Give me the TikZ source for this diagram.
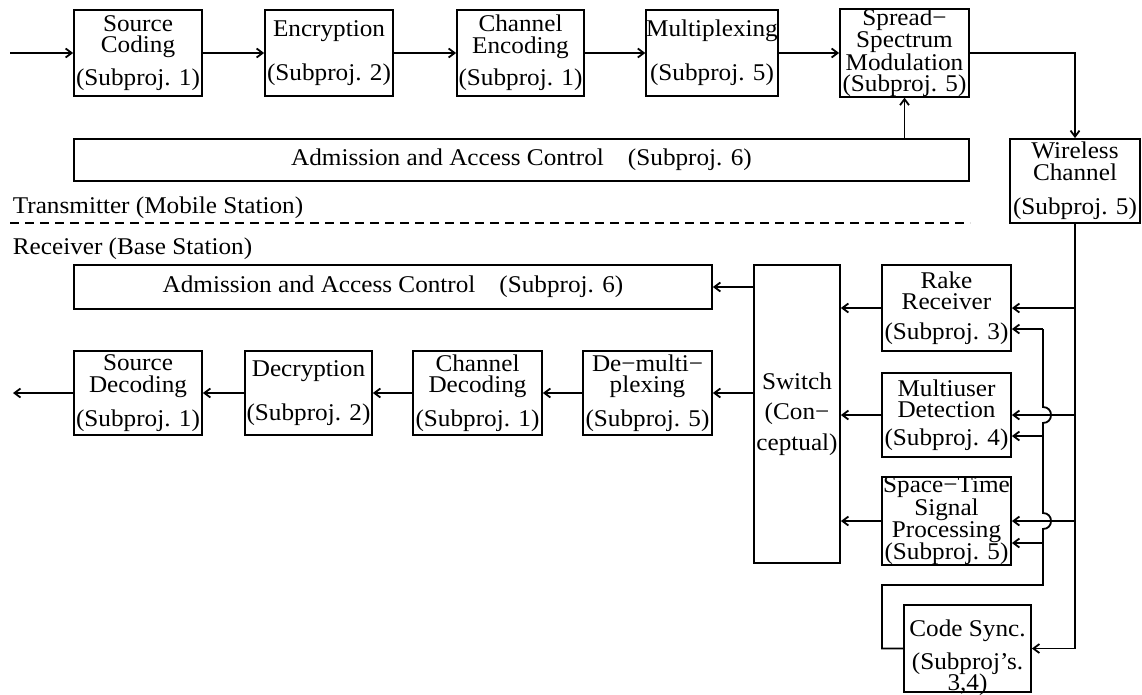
\documentclass[tikz,border=0pt]{standalone}
\usepackage{fontspec}
\setmainfont{Liberation Serif}[FakeStretch=1.05]
\usetikzlibrary{arrows.meta,calc}
\begin{document}
\begin{tikzpicture}[x=1pt,y=-1pt,
  line width=1.8pt,
  box/.style={draw, rectangle, inner sep=0pt, align=center, font=\fontsize{24}{21.5}\selectfont},
  txt/.style={inner sep=0pt, align=center, font=\fontsize{24}{21.5}\selectfont},
  arr/.style={-{Straight Barb[length=6pt,width=9pt]}},
  dashline/.style={dash pattern=on 9pt off 6pt}
  ]
\useasboundingbox (0,0) rectangle (1142,695);
% transmitter
\node[box, minimum width=128pt, minimum height=86pt] (sc) at (138,53) {Source\\Coding\\[10pt](Subproj. 1)};
\node[box, minimum width=128pt, minimum height=86pt] (enc) at (329,53) {Encryption\\[21pt](Subproj. 2)};
\node[box, minimum width=127pt, minimum height=86pt] (che) at (520.5,53) {Channel\\Encoding\\[10pt](Subproj. 1)};
\node[box, minimum width=130pt, minimum height=86pt] (mux) at (712,53) {Multiplexing\\[21pt](Subproj. 5)};
\node[box, minimum width=129pt, minimum height=86pt] (ssm) at (904.5,53) {Spread−\\Spectrum\\Modulation\\(Subproj. 5)};
\node[box, minimum width=895pt, minimum height=42pt] (admt) at (521.5,160) {Admission and Access Control\quad(Subproj. 6)};
\node[box, minimum width=130pt, minimum height=84pt] (wc) at (1075,181) {Wireless\\Channel\\[13pt](Subproj. 5)};
\node[txt, anchor=base west] (tx) at (12,213) {Transmitter (Mobile Station)};
\node[txt, anchor=base west] (rx) at (12,254) {Receiver (Base Station)};
\coordinate (dl) at (10,223);
\coordinate (dr) at (970,223);
\draw[dashline] (dl) -- (dr);
% receiver
\node[box, minimum width=638pt, minimum height=44pt] (admr) at (393,287) {Admission and Access Control\quad(Subproj. 6)};
\node[box, minimum width=128pt, minimum height=84pt] (sd) at (138,393) {Source\\Decoding\\[11pt](Subproj. 1)};
\node[box, minimum width=127pt, minimum height=84pt] (dec) at (308.5,393) {Decryption\\[21pt](Subproj. 2)};
\node[box, minimum width=129pt, minimum height=84pt] (chd) at (477.5,393) {Channel\\Decoding\\[11pt](Subproj. 1)};
\node[box, minimum width=129pt, minimum height=84pt] (dmx) at (647.5,393) {De−multi−\\plexing\\[11pt](Subproj. 5)};
\node[box, minimum width=86pt, minimum height=298pt] (sw) at (797,414) {Switch\\[9pt](Con−\\[8pt]ceptual)};
\node[box, minimum width=129pt, minimum height=86pt] (rake) at (946.5,308) {Rake\\Receiver\\[8pt](Subproj. 3)};
\node[box, minimum width=129pt, minimum height=84pt] (mud) at (946.5,415) {Multiuser\\Detection\\[6pt](Subproj. 4)};
\node[box, minimum width=129pt, minimum height=84pt] (stp) at (946.5,521) {Space−Time\\Signal\\Processing\\(Subproj. 5)};
\node[box, minimum width=127pt, minimum height=87pt] (cs) at (967.5,648.5) {};
\node[txt] (cst) at (967.5,658) {Code Sync.\\[10pt](Subproj’s.\\[-2pt]3,4)};
% transmitter connectors
\coordinate (in) at (10,53);
\draw[arr] (in) -- (sc.west);
\draw[arr] (sc.east) -- (enc.west);
\draw[arr] (enc.east) -- (che.west);
\draw[arr] (che.east) -- (mux.west);
\draw[arr] (mux.east) -- (ssm.west);
\draw[arr] (ssm.east) -| (wc.north);
\draw[arr] (admt.north -| ssm.south) -- (ssm.south);
% receiver connectors
\coordinate (out) at (13,393);
\draw[arr] (sw.west |- admr.east) -- (admr.east);
\draw[arr] (sw.west |- dmx.east) -- (dmx.east);
\draw[arr] (dmx.west) -- (chd.east);
\draw[arr] (chd.west) -- (dec.east);
\draw[arr] (dec.west) -- (sd.east);
\draw[arr] (sd.west) -- (out);
\draw[arr] (rake.west) -- (sw.east |- rake.west);
\draw[arr] (mud.west) -- (sw.east |- mud.west);
\draw[arr] (stp.west) -- (sw.east |- stp.west);
% main bus
\draw[arr] (wc.south) |- (cs.east);
\draw[arr] (wc.south |- rake.east) -- (rake.east);
\draw[arr] (wc.south |- mud.east) -- (mud.east);
\draw[arr] (wc.south |- stp.east) -- (stp.east);
% code sync bus
\coordinate (b1) at (1043,329);
\coordinate (b2) at (1043,436);
\coordinate (b3) at (1043,543);
\coordinate (bb) at (1043,585);
\coordinate (bl) at (882,585);
\draw (cs.west) -| (bl) -- (bb) -- (1043,529)
  .. controls (1053.7,529) and (1053.7,513) .. (1043,513) -- (1043,423)
  .. controls (1053.7,423) and (1053.7,407) .. (1043,407) -- (b1);
\draw[arr] (b1) -- (rake.east |- b1);
\draw[arr] (b2) -- (mud.east |- b2);
\draw[arr] (b3) -- (stp.east |- b3);
\end{tikzpicture}
\end{document}
